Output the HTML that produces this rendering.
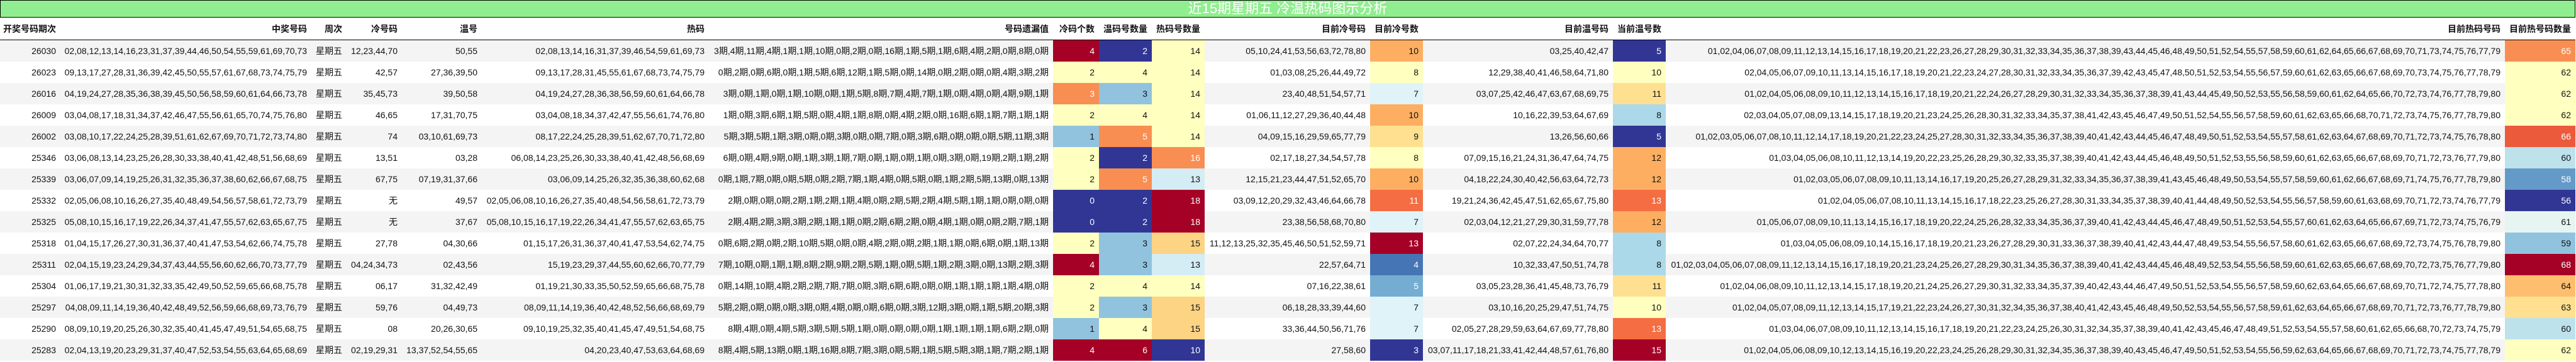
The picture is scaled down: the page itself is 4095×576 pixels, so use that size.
<!DOCTYPE html>
<html><head><meta charset="utf-8">
<style>
html,body{margin:0;padding:0;background:#fff;width:4095px;height:576px;overflow:hidden}
.t{position:absolute;left:0;top:0;width:4094px;height:28px;box-sizing:border-box;background:#90ee90;border:1px solid #000;text-align:center;color:#fff;font:22px/26px "Liberation Sans","Noto Sans CJK SC",sans-serif}
table{position:absolute;left:0;top:28px;border-collapse:collapse;table-layout:fixed;width:4094px;font:14px "Liberation Sans","Noto Sans CJK SC",sans-serif;color:#111}
th{height:35px;font-weight:bold;text-align:right;padding:0 7px 0 0;border-bottom:1px solid #000;white-space:nowrap;overflow:hidden}
td{height:34px;text-align:right;padding:0 7px 0 0;white-space:nowrap;overflow:hidden}
tr.g td{background:#f4f4f4}
td.R{background:#a50026!important;color:#fff}
td.B{background:#313695!important;color:#fff}
td.Y{background:#ffffbf!important}
td.O{background:#f98e52!important;color:#fff}
td.O2{background:#fdae61!important}
td.O3{background:#f46d43!important;color:#fff}
td.O4{background:#ec5a3c!important;color:#fff}
td.LO{background:#fee090!important}
td.LO2{background:#fdd384!important}
td.LO3{background:#fdbe6f!important}
td.LB{background:#91c3df!important}
td.LB2{background:#abd9e9!important}
td.VL{background:#d4ecf4!important}
td.VL2{background:#e0f3f8!important}
td.VL3{background:#bde2ec!important}
td.VL4{background:#e6f5f1!important}
td.MB{background:#4575b4!important;color:#fff}
td.MB2{background:#74add1!important;color:#fff}
td.MB3{background:#649ac7!important;color:#fff}
</style></head><body>
<div class="t">近15期星期五 冷温热码图示分析</div>
<table>
<colgroup><col style="width:96px"><col style="width:399px"><col style="width:56px"><col style="width:88px"><col style="width:127px"><col style="width:361px"><col style="width:547px"><col style="width:73px"><col style="width:84px"><col style="width:84px"><col style="width:263px"><col style="width:84px"><col style="width:302px"><col style="width:84px"><col style="width:1334px"><col style="width:112px"></colgroup>
<tr><th>开奖号码期次</th><th>中奖号码</th><th>周次</th><th>冷号码</th><th>温号</th><th>热码</th><th>号码遗漏值</th><th>冷码个数</th><th>温码号数量</th><th>热码号数量</th><th>目前冷号码</th><th>目前冷号数</th><th>目前温号码</th><th>当前温号数</th><th>目前热码号码</th><th>目前热号码数量</th></tr>
<tr class="g"><td>26030</td><td>02,08,12,13,14,16,23,31,37,39,44,46,50,54,55,59,61,69,70,73</td><td>星期五</td><td>12,23,44,70</td><td>50,55</td><td>02,08,13,14,16,31,37,39,46,54,59,61,69,73</td><td>3期,4期,11期,4期,1期,1期,10期,0期,2期,0期,16期,1期,5期,1期,6期,4期,2期,0期,8期,0期</td><td class="R">4</td><td class="B">2</td><td class="Y">14</td><td>05,10,24,41,53,56,63,72,78,80</td><td class="O2">10</td><td>03,25,40,42,47</td><td class="B">5</td><td>01,02,04,06,07,08,09,11,12,13,14,15,16,17,18,19,20,21,22,23,26,27,28,29,30,31,32,33,34,35,36,37,38,39,43,44,45,46,48,49,50,51,52,54,55,57,58,59,60,61,62,64,65,66,67,68,69,70,71,73,74,75,76,77,79</td><td class="O">65</td></tr>
<tr><td>26023</td><td>09,13,17,27,28,31,36,39,42,45,50,55,57,61,67,68,73,74,75,79</td><td>星期五</td><td>42,57</td><td>27,36,39,50</td><td>09,13,17,28,31,45,55,61,67,68,73,74,75,79</td><td>0期,2期,0期,6期,0期,1期,5期,6期,12期,1期,5期,0期,14期,0期,2期,0期,0期,4期,3期,2期</td><td class="Y">2</td><td class="Y">4</td><td class="Y">14</td><td>01,03,08,25,26,44,49,72</td><td class="Y">8</td><td>12,29,38,40,41,46,58,64,71,80</td><td class="Y">10</td><td>02,04,05,06,07,09,10,11,13,14,15,16,17,18,19,20,21,22,23,24,27,28,30,31,32,33,34,35,36,37,39,42,43,45,47,48,50,51,52,53,54,55,56,57,59,60,61,62,63,65,66,67,68,69,70,73,74,75,76,77,78,79</td><td class="Y">62</td></tr>
<tr class="g"><td>26016</td><td>04,19,24,27,28,35,36,38,39,45,50,56,58,59,60,61,64,66,73,78</td><td>星期五</td><td>35,45,73</td><td>39,50,58</td><td>04,19,24,27,28,36,38,56,59,60,61,64,66,78</td><td>3期,0期,1期,0期,1期,10期,0期,1期,5期,8期,7期,4期,7期,1期,0期,4期,0期,4期,9期,1期</td><td class="O">3</td><td class="LB">3</td><td class="Y">14</td><td>23,40,48,51,54,57,71</td><td class="VL2">7</td><td>03,07,25,42,46,47,63,67,68,69,75</td><td class="LO">11</td><td>01,02,04,05,06,08,09,10,11,12,13,14,15,16,17,18,19,20,21,22,24,26,27,28,29,30,31,32,33,34,35,36,37,38,39,41,43,44,45,49,50,52,53,55,56,58,59,60,61,62,64,65,66,70,72,73,74,76,77,78,79,80</td><td class="Y">62</td></tr>
<tr><td>26009</td><td>03,04,08,17,18,31,34,37,42,46,47,55,56,61,65,70,74,75,76,80</td><td>星期五</td><td>46,65</td><td>17,31,70,75</td><td>03,04,08,18,34,37,42,47,55,56,61,74,76,80</td><td>1期,0期,3期,6期,1期,5期,0期,4期,1期,8期,0期,4期,2期,0期,16期,6期,1期,7期,1期,1期</td><td class="Y">2</td><td class="Y">4</td><td class="Y">14</td><td>01,06,11,12,27,29,36,40,44,48</td><td class="O2">10</td><td>10,16,22,39,53,64,67,69</td><td class="LB2">8</td><td>02,03,04,05,07,08,09,13,14,15,17,18,19,20,21,23,24,25,26,28,30,31,32,33,34,35,37,38,41,42,43,45,46,47,49,50,51,52,54,55,56,57,58,59,60,61,62,63,65,66,68,70,71,72,73,74,75,76,77,78,79,80</td><td class="Y">62</td></tr>
<tr class="g"><td>26002</td><td>03,08,10,17,22,24,25,28,39,51,61,62,67,69,70,71,72,73,74,80</td><td>星期五</td><td>74</td><td>03,10,61,69,73</td><td>08,17,22,24,25,28,39,51,62,67,70,71,72,80</td><td>5期,3期,5期,1期,3期,0期,0期,3期,0期,0期,7期,0期,3期,6期,0期,0期,0期,5期,11期,3期</td><td class="LB">1</td><td class="O">5</td><td class="Y">14</td><td>04,09,15,16,29,59,65,77,79</td><td class="LO">9</td><td>13,26,56,60,66</td><td class="B">5</td><td>01,02,03,05,06,07,08,10,11,12,14,17,18,19,20,21,22,23,24,25,27,28,30,31,32,33,34,35,36,37,38,39,40,41,42,43,44,45,46,47,48,49,50,51,52,53,54,55,57,58,61,62,63,64,67,68,69,70,71,72,73,74,75,76,78,80</td><td class="O4">66</td></tr>
<tr><td>25346</td><td>03,06,08,13,14,23,25,26,28,30,33,38,40,41,42,48,51,56,68,69</td><td>星期五</td><td>13,51</td><td>03,28</td><td>06,08,14,23,25,26,30,33,38,40,41,42,48,56,68,69</td><td>6期,0期,4期,9期,0期,1期,3期,1期,7期,0期,1期,0期,1期,0期,3期,0期,19期,2期,1期,2期</td><td class="Y">2</td><td class="B">2</td><td class="O">16</td><td>02,17,18,27,34,54,57,78</td><td class="Y">8</td><td>07,09,15,16,21,24,31,36,47,64,74,75</td><td class="O2">12</td><td>01,03,04,05,06,08,10,11,12,13,14,19,20,22,23,25,26,28,29,30,32,33,35,37,38,39,40,41,42,43,44,45,46,48,49,50,51,52,53,55,56,58,59,60,61,62,63,65,66,67,68,69,70,71,72,73,76,77,79,80</td><td class="VL3">60</td></tr>
<tr class="g"><td>25339</td><td>03,06,07,09,14,19,25,26,31,32,35,36,37,38,60,62,66,67,68,75</td><td>星期五</td><td>67,75</td><td>07,19,31,37,66</td><td>03,06,09,14,25,26,32,35,36,38,60,62,68</td><td>0期,1期,7期,0期,0期,5期,0期,2期,7期,1期,4期,0期,5期,0期,1期,2期,5期,13期,0期,13期</td><td class="Y">2</td><td class="O">5</td><td class="VL">13</td><td>12,15,21,23,44,47,51,52,65,70</td><td class="O2">10</td><td>04,18,22,24,30,40,42,56,63,64,72,73</td><td class="O2">12</td><td>01,02,03,05,06,07,08,09,10,11,13,14,16,17,19,20,25,26,27,28,29,31,32,33,34,35,36,37,38,39,41,43,45,46,48,49,50,53,54,55,57,58,59,60,61,62,66,67,68,69,71,74,75,76,77,78,79,80</td><td class="MB3">58</td></tr>
<tr><td>25332</td><td>02,05,06,08,10,16,26,27,35,40,48,49,54,56,57,58,61,72,73,79</td><td>星期五</td><td>无</td><td>49,57</td><td>02,05,06,08,10,16,26,27,35,40,48,54,56,58,61,72,73,79</td><td>2期,0期,0期,0期,2期,1期,2期,1期,4期,0期,2期,5期,2期,4期,5期,1期,1期,0期,0期,0期</td><td class="B">0</td><td class="B">2</td><td class="R">18</td><td>03,09,12,20,29,32,43,46,64,66,78</td><td class="O3">11</td><td>19,21,24,36,42,45,47,51,62,65,67,75,80</td><td class="O3">13</td><td>01,02,04,05,06,07,08,10,11,13,14,15,16,17,18,22,23,25,26,27,28,30,31,33,34,35,37,38,39,40,41,44,48,49,50,52,53,54,55,56,57,58,59,60,61,63,68,69,70,71,72,73,74,76,77,79</td><td class="B">56</td></tr>
<tr class="g"><td>25325</td><td>05,08,10,15,16,17,19,22,26,34,37,41,47,55,57,62,63,65,67,75</td><td>星期五</td><td>无</td><td>37,67</td><td>05,08,10,15,16,17,19,22,26,34,41,47,55,57,62,63,65,75</td><td>2期,4期,2期,3期,3期,2期,1期,1期,0期,2期,6期,2期,0期,4期,1期,0期,0期,2期,7期,1期</td><td class="B">0</td><td class="B">2</td><td class="R">18</td><td>23,38,56,58,68,70,80</td><td class="VL2">7</td><td>02,03,04,12,21,27,29,30,31,59,77,78</td><td class="O2">12</td><td>01,05,06,07,08,09,10,11,13,14,15,16,17,18,19,20,22,24,25,26,28,32,33,34,35,36,37,39,40,41,42,43,44,45,46,47,48,49,50,51,52,53,54,55,57,60,61,62,63,64,65,66,67,69,71,72,73,74,75,76,79</td><td class="VL4">61</td></tr>
<tr><td>25318</td><td>01,04,15,17,26,27,30,31,36,37,40,41,47,53,54,62,66,74,75,78</td><td>星期五</td><td>27,78</td><td>04,30,66</td><td>01,15,17,26,31,36,37,40,41,47,53,54,62,74,75</td><td>0期,6期,2期,0期,2期,10期,5期,0期,0期,4期,2期,0期,2期,1期,1期,0期,6期,0期,1期,13期</td><td class="Y">2</td><td class="LB">3</td><td class="LO2">15</td><td>11,12,13,25,32,35,45,46,50,51,52,59,71</td><td class="R">13</td><td>02,07,22,24,34,64,70,77</td><td class="LB2">8</td><td>01,03,04,05,06,08,09,10,14,15,16,17,18,19,20,21,23,26,27,28,29,30,31,33,36,37,38,39,40,41,42,43,44,47,48,49,53,54,55,56,57,58,60,61,62,63,65,66,67,68,69,72,73,74,75,76,78,79,80</td><td class="LB">59</td></tr>
<tr class="g"><td>25311</td><td>02,04,15,19,23,24,29,34,37,43,44,55,56,60,62,66,70,73,77,79</td><td>星期五</td><td>04,24,34,73</td><td>02,43,56</td><td>15,19,23,29,37,44,55,60,62,66,70,77,79</td><td>7期,10期,0期,1期,1期,8期,2期,9期,2期,5期,1期,0期,5期,1期,2期,3期,0期,13期,2期,3期</td><td class="R">4</td><td class="LB">3</td><td class="VL">13</td><td>22,57,64,71</td><td class="MB">4</td><td>10,32,33,47,50,51,74,78</td><td class="LB2">8</td><td>01,02,03,04,05,06,07,08,09,11,12,13,14,15,16,17,18,19,20,21,23,24,25,26,27,28,29,30,31,34,35,36,37,38,39,40,41,42,43,44,45,46,48,49,52,53,54,55,56,58,59,60,61,62,63,65,66,67,68,69,70,72,73,75,76,77,79,80</td><td class="R">68</td></tr>
<tr><td>25304</td><td>01,06,17,19,21,30,31,32,33,35,42,49,50,52,59,65,66,68,75,78</td><td>星期五</td><td>06,17</td><td>31,32,42,49</td><td>01,19,21,30,33,35,50,52,59,65,66,68,75,78</td><td>0期,14期,10期,4期,2期,2期,7期,7期,0期,3期,6期,6期,0期,0期,1期,1期,1期,1期,4期,0期</td><td class="Y">2</td><td class="Y">4</td><td class="Y">14</td><td>07,16,22,38,61</td><td class="MB2">5</td><td>03,05,23,28,36,41,45,48,73,76,79</td><td class="LO">11</td><td>01,02,04,06,08,09,10,11,12,13,14,15,17,18,19,20,21,24,25,26,27,29,30,31,32,33,34,35,37,39,40,42,43,44,46,47,49,50,51,52,53,54,55,56,57,58,59,60,62,63,64,65,66,67,68,69,70,71,72,74,75,77,78,80</td><td class="LO3">64</td></tr>
<tr class="g"><td>25297</td><td>04,08,09,11,14,19,36,40,42,48,49,52,56,59,66,68,69,73,76,79</td><td>星期五</td><td>59,76</td><td>04,49,73</td><td>08,09,11,14,19,36,40,42,48,52,56,66,68,69,79</td><td>5期,2期,0期,0期,0期,3期,0期,4期,0期,0期,6期,0期,3期,12期,3期,0期,1期,5期,20期,3期</td><td class="Y">2</td><td class="LB">3</td><td class="LO2">15</td><td>06,18,28,33,39,44,60</td><td class="VL2">7</td><td>03,10,16,20,25,29,47,51,74,75</td><td class="Y">10</td><td>01,02,04,05,07,08,09,11,12,13,14,15,17,19,21,22,23,24,26,27,30,31,32,34,35,36,37,38,40,41,42,43,45,46,48,49,50,52,53,54,55,56,57,58,59,61,62,63,64,65,66,67,68,69,70,71,72,73,76,77,78,79,80</td><td class="LO">63</td></tr>
<tr><td>25290</td><td>08,09,10,19,20,25,26,30,32,35,40,41,45,47,49,51,54,65,68,75</td><td>星期五</td><td>08</td><td>20,26,30,65</td><td>09,10,19,25,32,35,40,41,45,47,49,51,54,68,75</td><td>8期,4期,0期,4期,5期,3期,5期,5期,1期,0期,0期,0期,0期,1期,1期,1期,1期,6期,2期,0期</td><td class="LB">1</td><td class="Y">4</td><td class="LO2">15</td><td>33,36,44,50,56,71,76</td><td class="VL2">7</td><td>02,05,27,28,29,59,63,64,67,69,77,78,80</td><td class="O3">13</td><td>01,03,04,06,07,08,09,10,11,12,13,14,15,16,17,18,19,20,21,22,23,24,25,26,30,31,32,34,35,37,38,39,40,41,42,43,45,46,47,48,49,51,52,53,54,55,57,58,60,61,62,65,66,68,70,72,73,74,75,79</td><td class="VL3">60</td></tr>
<tr class="g"><td>25283</td><td>02,04,13,19,20,23,29,31,37,40,47,52,53,54,55,63,64,65,68,69</td><td>星期五</td><td>02,19,29,31</td><td>13,37,52,54,55,65</td><td>04,20,23,40,47,53,63,64,68,69</td><td>8期,4期,5期,13期,0期,1期,16期,8期,7期,3期,0期,5期,1期,5期,5期,3期,1期,7期,2期,1期</td><td class="R">4</td><td class="R">6</td><td class="B">10</td><td>27,58,60</td><td class="B">3</td><td>03,07,11,17,18,21,33,41,42,44,48,57,61,76,80</td><td class="R">15</td><td>01,02,04,05,06,08,09,10,12,13,14,15,16,19,20,22,23,24,25,26,28,29,30,31,32,34,35,36,37,38,39,40,43,45,46,47,49,50,51,52,53,54,55,56,59,62,63,64,65,66,67,68,69,70,71,72,73,74,75,77,78,79</td><td class="Y">62</td></tr>
</table>
</body></html>
